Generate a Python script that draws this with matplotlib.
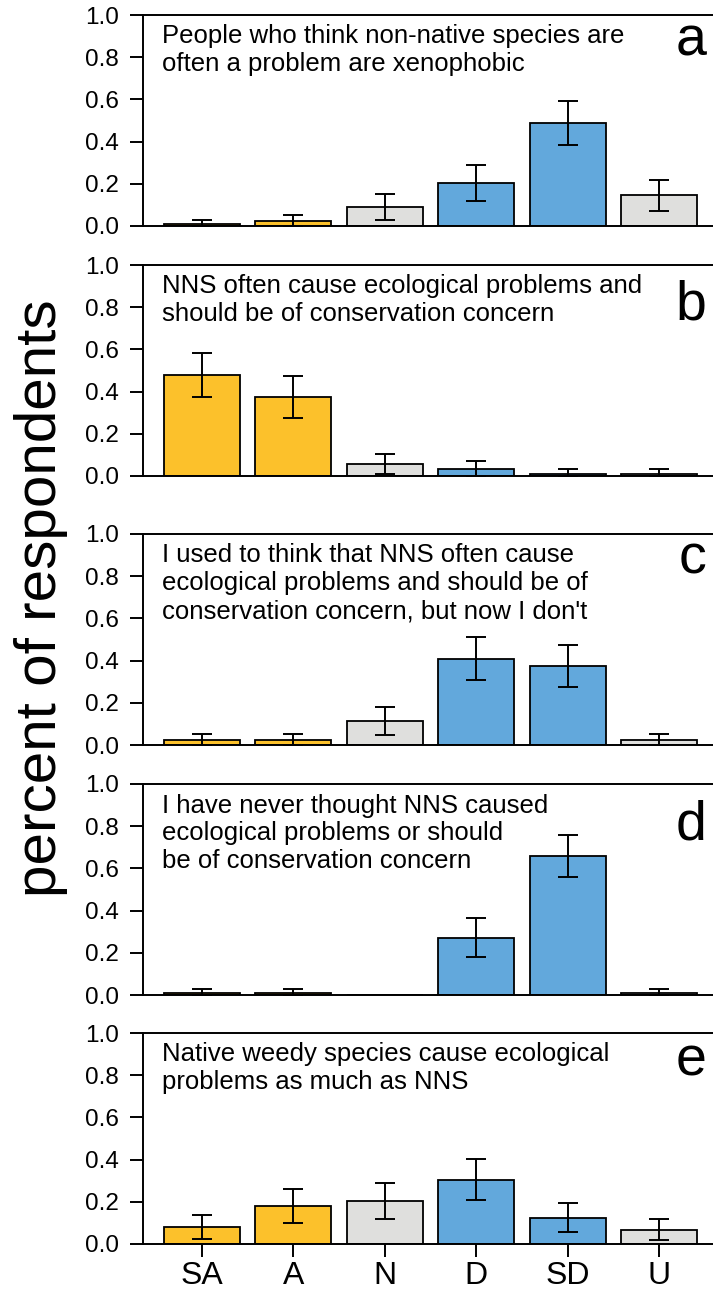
import numpy as np
import matplotlib
matplotlib.use("Agg")
import matplotlib.pyplot as plt

plt.rcParams['font.family'] = ['Liberation Sans', 'DejaVu Sans']

# categories (strongly agree ... strongly disagree, unsure)
categories = ["SA", "A", "N", "D", "SD", "U"]
orange = "#FCC12B"
blue = "#62A8DC"
grey = "#DFDFDD"
bar_colors = [orange, orange, grey, blue, blue, grey]

# proportion of respondents and the ends of the error bars
a_vals = [0.010, 0.024, 0.090, 0.204, 0.488, 0.147]
a_hi = [0.030, 0.052, 0.150, 0.289, 0.594, 0.219]
a_lo = [0.000, 0.000, 0.030, 0.118, 0.382, 0.073]

b_vals = [0.477, 0.375, 0.057, 0.033, 0.010, 0.010]
b_hi = [0.581, 0.474, 0.106, 0.071, 0.033, 0.033]
b_lo = [0.373, 0.273, 0.008, 0.000, 0.000, 0.000]

c_vals = [0.024, 0.024, 0.115, 0.409, 0.375, 0.024]
c_hi = [0.054, 0.054, 0.180, 0.513, 0.476, 0.054]
c_lo = [0.000, 0.000, 0.046, 0.306, 0.273, 0.000]

d_vals = [0.010, 0.010, 0.000, 0.270, 0.658, 0.010]
d_hi = [0.030, 0.030, 0.000, 0.367, 0.758, 0.030]
d_lo = [0.000, 0.000, 0.000, 0.179, 0.559, 0.000]

e_vals = [0.079, 0.182, 0.204, 0.305, 0.125, 0.068]
e_hi = [0.136, 0.263, 0.290, 0.403, 0.195, 0.120]
e_lo = [0.022, 0.101, 0.119, 0.209, 0.055, 0.017]

statements = [
    "People who think non-native species are\noften a problem are xenophobic",
    "NNS often cause ecological problems and\nshould be of conservation concern",
    "I used to think that NNS often cause\necological problems and should be of\nconservation concern, but now I don't",
    "I have never thought NNS caused\necological problems or should\nbe of conservation concern",
    "Native weedy species cause ecological\nproblems as much as NNS",
]
letters = ["a", "b", "c", "d", "e"]

panels = [(a_vals, a_lo, a_hi), (b_vals, b_lo, b_hi), (c_vals, c_lo, c_hi),
          (d_vals, d_lo, d_hi), (e_vals, e_lo, e_hi)]

# layout (pixels of the 713 x 1293 figure)
W, H = 713, 1293
ax_left, ax_right = 143, 713
ax_bottoms = [226, 476, 745, 995, 1244]
ax_h = 211
letter_drop = [40, 55, 40, 56, 42]

fig = plt.figure(figsize=(W / 100, H / 100), dpi=100)
x = np.arange(len(categories))

for i, (vals, lo, hi) in enumerate(panels):
    ax = fig.add_axes([ax_left / W, 1 - ax_bottoms[i] / H,
                       (ax_right - ax_left) / W, ax_h / H])
    vals = np.array(vals)
    lo = np.array(lo)
    hi = np.array(hi)
    ax.bar(x, vals, width=0.83, color=bar_colors, edgecolor="black",
           linewidth=1.3, zorder=2)
    show = hi > lo
    ax.errorbar(x[show], vals[show],
                yerr=[vals[show] - lo[show], hi[show] - vals[show]],
                fmt="none", ecolor="black", elinewidth=1.4, capsize=7.2,
                capthick=1.4, zorder=3)

    ax.set_xlim(-0.645, 5.59)
    ax.set_ylim(0, 1.0)
    ax.set_yticks([0, 0.2, 0.4, 0.6, 0.8, 1.0])
    ax.set_yticklabels(["0.0", "0.2", "0.4", "0.6", "0.8", "1.0"])
    ax.spines["right"].set_visible(False)
    for s in ["left", "top", "bottom"]:
        ax.spines[s].set_linewidth(1.4)
    ax.tick_params(axis="y", length=9.4, width=1.4, labelsize=17.5, pad=8)
    ax.set_xticks(x)
    if i == len(panels) - 1:
        ax.set_xticklabels(categories)
        ax.tick_params(axis="x", length=9.4, width=1.4, labelsize=23, pad=3)
    else:
        ax.tick_params(axis="x", length=0, labelbottom=False)

    ax.text(0.033, 1 - 9.5 / ax_h, statements[i], transform=ax.transAxes,
            ha="left", va="top", fontsize=18.5, linespacing=1.2)
    ax.text(0.989, 1 - letter_drop[i] / ax_h, letters[i], transform=ax.transAxes,
            ha="right", va="baseline", fontsize=40)

fig.text(0.058, 0.5375, "percent of respondents", rotation=90,
         ha="center", va="center", fontsize=42)

fig.savefig("out.png", dpi=100)
